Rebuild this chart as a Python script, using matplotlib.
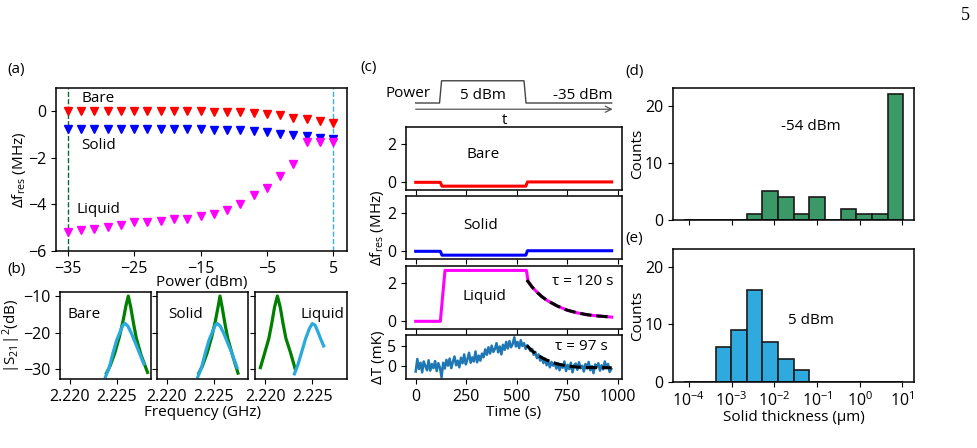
import numpy as np
import matplotlib
matplotlib.use("Agg")
import matplotlib.pyplot as plt

plt.rcParams["font.family"] = ["Open Sans", "DejaVu Sans"]
plt.rcParams["font.size"] = 11
plt.rcParams["xtick.labelsize"] = 11.5
plt.rcParams["ytick.labelsize"] = 11.5
plt.rcParams["mathtext.fontset"] = "custom"
plt.rcParams["mathtext.rm"] = "Open Sans"
plt.rcParams["mathtext.it"] = "Open Sans:italic"
plt.rcParams["axes.linewidth"] = 1.1

W, H = 977, 448

# ----------------------------------------------------------------------
# data
# ----------------------------------------------------------------------
# (a) resonance shift vs power
power_dbm = [-35, -33, -31, -29, -27, -25, -23, -21, -19, -17, -15,
             -13, -11, -9, -7, -5, -3, -1, 1, 3, 5]
shift_bare = [0, 0, 0, 0, 0, 0, 0, 0, 0, 0, 0, -0.01, -0.02,
              -0.03, -0.06, -0.1, -0.17, -0.27, -0.33, -0.4, -0.5]
shift_solid = [-0.78, -0.78, -0.78, -0.78, -0.78, -0.78, -0.78, -0.78,
               -0.78, -0.78, -0.78, -0.79, -0.8, -0.82, -0.86, -0.9,
               -0.96, -1.0, -1.08, -1.13, -1.2]
shift_liquid = [-5.19, -5.11, -5.04, -4.96, -4.89, -4.77, -4.77, -4.71,
                -4.61, -4.61, -4.51, -4.40, -4.23, -3.99, -3.59, -3.29,
                -2.77, -2.26, -1.33, -1.33, -1.33]

# (b) transmission spectra, (freq GHz, dB); low power = green, high = blue
bare_lo_f = [2.2239, 2.2243, 2.2248, 2.2253, 2.2257, 2.2260, 2.22624,
             2.2265, 2.2268, 2.2271, 2.2276, 2.2283]
bare_lo_db = [-31.0, -29.0, -25.5, -21.0, -16.5, -12.5, -10.0,
              -13.0, -17.5, -21.5, -26.0, -30.8]
bare_hi_f = [2.2238, 2.2242, 2.2246, 2.2250, 2.2254, 2.2257, 2.2259,
             2.2262, 2.2266, 2.2270, 2.2274, 2.2279]
bare_hi_db = [-32.0, -29.5, -25.5, -22.0, -19.5, -17.8, -17.5,
              -18.2, -20.3, -22.8, -25.3, -28.5]
solid_lo_f = [2.2234, 2.2238, 2.2243, 2.2248, 2.2252, 2.2255, 2.22567,
              2.2259, 2.2262, 2.2265, 2.2270, 2.2276]
solid_lo_db = [-31.0, -29.0, -25.5, -21.0, -16.5, -12.5, -10.0,
               -13.0, -17.5, -21.5, -26.0, -31.0]
solid_hi_f = [2.2233, 2.2237, 2.2241, 2.2245, 2.2249, 2.2252, 2.2254,
              2.2257, 2.2261, 2.2265, 2.2269, 2.2275]
solid_hi_db = [-32.0, -29.5, -25.5, -22.0, -19.5, -17.8, -17.5,
               -18.2, -20.3, -22.8, -25.3, -29.5]
liquid_lo_f = [2.2195, 2.2199, 2.2204, 2.2207, 2.2210, 2.2213,
               2.2216, 2.2219, 2.2222, 2.2227, 2.2232]
liquid_lo_db = [-29.5, -26.0, -21.5, -17.5, -13.0, -10.0,
                -13.0, -17.5, -21.5, -25.5, -30.0]
liquid_hi_f = [2.2231, 2.2235, 2.2239, 2.2243, 2.2247, 2.2250,
               2.2253, 2.2256, 2.2259, 2.2262]
liquid_hi_db = [-31.2, -28.5, -25.0, -21.5, -18.8, -17.5,
                -18.0, -19.8, -21.8, -23.6]

# (c) time traces
power_t = [0, 118, 128, 536, 546, 970]
power_level = [0, 0, 1, 1, 0, 0]
bare_t = [0, 122, 130, 545, 553, 970]
bare_df = [0, 0, -0.2, -0.2, 0.02, 0.02]
solid_t = [0, 122, 130, 545, 553, 970]
solid_df = [0, 0, -0.2, -0.2, 0.03, 0.03]
liquid_t = [0, 122, 145, 548, 556, 575, 600, 625, 650, 700, 750, 800,
            850, 900, 970]
liquid_df = [0, 0, 2.65, 2.65, 2.1, 1.8, 1.52, 1.28, 1.09, 0.8, 0.58,
             0.44, 0.34, 0.28, 0.22]
fit_t = [550, 575, 600, 625, 650, 700, 750, 800, 850, 900, 970]
liquid_fit = [2.15, 1.8, 1.52, 1.28, 1.09, 0.8, 0.58, 0.44, 0.34, 0.28, 0.22]
dT_fit = [5.0, 3.8, 2.86, 2.1, 1.5, 0.62, 0.12, -0.15, -0.25, -0.28, -0.3]

dT_t = np.arange(0, 969, 8)
dT_mK = [-1.2, 1.8, -0.6, 0.9, -1.4, 1.2, 0.1, -0.9, 1.5, -1.0, 0.6, -0.4,
         1.3, -1.1, 0.8, -0.3,
         -2.6, 0.9,
         -0.5, 1.6, 0.2, 1.9, -0.4, 1.1, 2.4, 0.3, 1.4, -0.2, 2.1, 0.8,
         2.9, 0.5, 1.7, 3.3, 0.9, 2.2, 1.2, 3.6, 1.0, 2.6, 1.4, 3.1,
         2.2, 4.1, 2.8, 4.6, 3.1, 5.0, 3.5, 4.2, 5.6, 3.4, 4.8, 2.9, 5.2,
         4.0, 5.9,
         4.3, 6.1, 4.6, 5.4, 7.0, 4.8, 5.9, 4.4, 6.3, 4.9, 5.6, 4.2, 5.1,
         4.6, 3.7, 4.2, 2.8, 3.5, 2.0, 2.9, 1.4, 2.3, 0.8, 1.9, 0.3, 1.5,
         -0.2, 1.1, 0.2, 0.9, -0.5,
         0.8, -0.9, 0.5, -0.3, 1.2, -1.1, 0.4, -0.6, 0.9, -1.4, 0.3, 0.7,
         -0.8, 1.0, -0.4, 0.2, -1.2, 0.6, -0.5, 1.1, -0.9, 0.1, -1.6, 0.5,
         -0.2, 0.8, -1.0, 0.3, -0.7, 1.2, -0.4, 0.6, -1.3, -0.6]

# (d), (e) histograms of solid thickness (um), shared log bins
bin_log_lo, bin_log_hi, n_bins = -4.107, 1.017, 14
counts_low_power = [0, 0, 0, 0, 1, 5, 4, 1, 4, 0, 2, 1, 1, 22]
counts_high_power = [0, 0, 6, 9, 16, 7, 4, 2, 0, 0, 0, 0, 0, 0]
decade_ticks = [1e-4, 1e-3, 1e-2, 1e-1, 1e0, 1e1]


# ----------------------------------------------------------------------
# layout helpers (pixel boxes, y measured from top)
# ----------------------------------------------------------------------
fig = plt.figure(figsize=(W / 100, H / 100), dpi=100)


def box(l, t, r, b):
    return fig.add_axes([l / W, 1 - b / H, (r - l) / W, (b - t) / H])


def ftext(x, y, s, **kw):
    fig.text(x / W, 1 - y / H, s, **kw)


# ----------------------------------------------------------------------
# (a)
# ----------------------------------------------------------------------
ax = box(56, 88, 347, 251)
ax.axvline(-35, color="#0b6b2e", ls="--", lw=1)
ax.axvline(5, color="#3aaee0", ls="--", lw=1)
ax.plot(power_dbm, shift_bare, "v", color="red", ms=5.5)
ax.plot(power_dbm, shift_solid, "v", color="blue", ms=5.5)
ax.plot(power_dbm, shift_liquid, "v", color="magenta", ms=5.5)
ax.set_xlim(-36.8, 7.1)
ax.set_ylim(-6, 1)
ax.set_xticks([-35, -25, -15, -5, 5])
ax.set_yticks([0, -2, -4, -6])
ax.text(-30.4, 0.54, "Bare", ha="center", va="center")
ax.text(-30.4, -1.46, "Solid", ha="center", va="center")
ax.text(-30.4, -4.2, "Liquid", ha="center", va="center")
ax.set_xlabel("Power (dBm)", labelpad=-1)
ax.set_ylabel(r"Δf$_{\mathregular{res}}$ (MHz)", labelpad=0)

# ----------------------------------------------------------------------
# (b)
# ----------------------------------------------------------------------
spectra = [
    ("Bare", bare_lo_f, bare_lo_db, bare_hi_f, bare_hi_db, (60, 151), 0.27),
    ("Solid", solid_lo_f, solid_lo_db, solid_hi_f, solid_hi_db, (157, 248), 0.32),
    ("Liquid", liquid_lo_f, liquid_lo_db, liquid_hi_f, liquid_hi_db, (255, 347), 0.73),
]
for i, (name, fl, dl, fh, dh, (l, r), tx) in enumerate(spectra):
    axb = box(l, 292, r, 379)
    axb.plot(fl, dl, color="green", lw=2.3)
    axb.plot(fh, dh, color="#2aa9df", lw=2.3)
    axb.set_xlim(2.21893, 2.22867)
    axb.set_ylim(-32.6, -8.9)
    axb.set_xticks([2.220, 2.225])
    axb.set_xticklabels(["2.220", "2.225"])
    axb.set_yticks([-10, -20, -30])
    axb.text(tx, 0.74, name, transform=axb.transAxes, ha="center", va="center")
    if i == 0:
        axb.set_ylabel(r"|S$_{21}$|$^2$(dB)", labelpad=0)
    else:
        axb.set_yticklabels([])
ftext(203, 412, "Frequency (GHz)", ha="center", va="center")

# ----------------------------------------------------------------------
# (c)
# ----------------------------------------------------------------------
c_xlim = (-48, 1021)
axs = box(406, 75, 622, 115)
axs.axis("off")
axs.set_xlim(c_xlim)
axs.set_ylim(-0.54, 1.26)
axs.plot(power_t, power_level, color="#444444", lw=1, solid_joinstyle="round")
axs.annotate("", xy=(975, -0.28), xytext=(0, -0.28),
             arrowprops=dict(arrowstyle="->", color="#555555", lw=0.9,
                             shrinkA=0, shrinkB=0))
axs.text(-38, 0.45, "Power", ha="center", va="center")
axs.text(333, 0.36, "5 dBm", ha="center", va="center")
axs.text(828, 0.36, "-35 dBm", ha="center", va="center")
axs.text(442, -0.78, "t", ha="center", va="center")

rows = [(127, 190), (196, 259), (266, 329), (335, 379)]
traces = [(bare_t, bare_df, "red", "Bare", 335, 1.45),
          (solid_t, solid_df, "blue", "Solid", 320, 1.35),
          (liquid_t, liquid_df, "magenta", "Liquid", 338, 1.3)]
for (t0, b0), (tt, yy, col, name, tx, ty) in zip(rows[:3], traces):
    axc = box(406, t0, 622, b0)
    axc.plot(tt, yy, color=col, lw=2.2)
    axc.set_xlim(c_xlim)
    axc.set_ylim(-0.4, 2.88)
    axc.set_xticks([0, 250, 500, 750, 1000])
    axc.set_xticklabels([])
    axc.set_yticks([0, 2])
    axc.text(tx, ty, name, ha="center", va="center")
    if name == "Solid":
        axc.set_ylabel(r"Δf$_{\mathregular{res}}$ (MHz)", labelpad=1)
    if name == "Liquid":
        axc.plot(fit_t, liquid_fit, color="black", ls="--", lw=2.2)
        axc.text(826, 2.08, "τ = 120 s", ha="center", va="center")

axT = box(406, 335, 622, 379)
axT.plot(dT_t, dT_mK, color="#1f77b4", lw=1.8)
axT.plot(fit_t, dT_fit, color="black", ls="--", lw=2.2)
axT.set_xlim(c_xlim)
axT.set_ylim(-3, 7.55)
axT.set_xticks([0, 250, 500, 750, 1000])
axT.set_yticks([0, 5])
axT.text(818, 4.9, "τ = 97 s", ha="center", va="center")
axT.set_xlabel("Time (s)", labelpad=0)
axT.set_ylabel("ΔT (mK)", labelpad=1)

# ----------------------------------------------------------------------
# (d), (e)
# ----------------------------------------------------------------------
edges = np.logspace(bin_log_lo, bin_log_hi, n_bins + 1)
mids = np.sqrt(edges[:-1] * edges[1:])
hists = [((673, 88, 914, 220), counts_low_power, "#3a9966", "-54 dBm", 126),
         ((673, 249, 914, 382), counts_high_power, "#2faade", "5 dBm", 320)]
for (l, t0, r, b0), cnt, col, lab, ly in hists:
    axh = box(l, t0, r, b0)
    axh.hist(mids, bins=edges, weights=cnt, color=col, edgecolor="#1a1a1a",
             linewidth=1.2)
    axh.set_xscale("log")
    axh.set_xticks(decade_ticks)
    axh.set_xlim(10 ** -4.37, 10 ** 1.27)
    axh.set_ylim(0, 23.1)
    axh.set_yticks([0, 10, 20])
    axh.set_ylabel("Counts", labelpad=0)
    ftext(811, ly, lab, ha="center", va="center")
    if lab == "5 dBm":
        axh.set_xlabel("Solid thickness (μm)", labelpad=0)
    else:
        axh.tick_params(axis="x", which="both", labelbottom=False)

# panel labels and page number
for s, x, y in [("(a)", 7, 69), ("(b)", 7, 269), ("(c)", 360, 68),
                ("(d)", 625, 71), ("(e)", 625, 238)]:
    ftext(x, y, s, ha="left", va="center")
ftext(965, 15, "5", ha="center", va="center", family="Liberation Serif",
      fontsize=13)

fig.savefig("out.png", dpi=100)
